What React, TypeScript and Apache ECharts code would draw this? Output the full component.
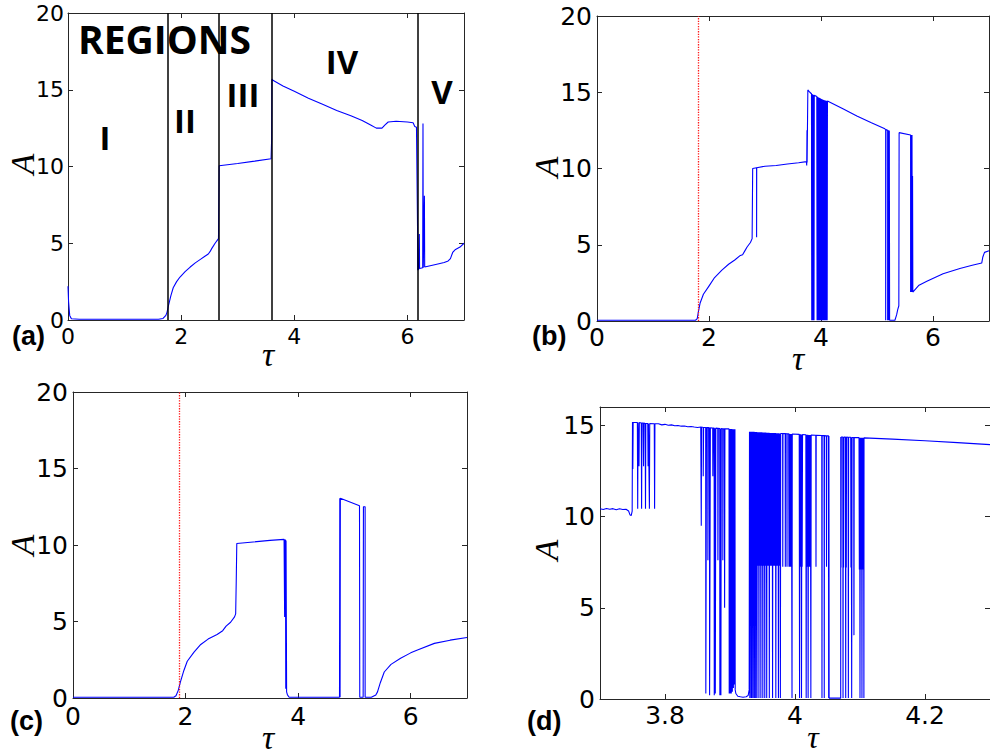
import React, { useEffect, useRef } from "react";
import * as echarts from "echarts";

// ---------- tick values ----------
const xTicksFull = [0, 2, 4, 6];
const yTicksFull = [0, 5, 10, 15, 20];
const xTicksZoom = [3.8, 4.0, 4.2];
const yTicksZoom = [0, 5, 10, 15];

// ---------- region boundaries (panel a) and onset markers (b, c) ----------
const regionBounds = [1.76, 2.67, 3.6, 6.18];
const regionNames = ["I", "II", "III", "IV", "V"];
const onsetB = [1.8];
const onsetC = [1.89];

// ---------- panel (a) ----------
const seriesA: [number, number][] = [
  [0, 2.2], [0.01, 1.2], [0.03, 0.3], [0.06, 0.08], [0.2, 0.05], [1.0, 0.05], [1.6, 0.05],
  [1.68, 0.1], [1.73, 0.3], [1.75, 0.5], [1.78, 1.0], [1.82, 1.6], [1.86, 2.1], [1.92, 2.5],
  [1.98, 2.8], [2.07, 3.15], [2.16, 3.45], [2.25, 3.72], [2.34, 3.95], [2.42, 4.15], [2.48, 4.3],
  [2.51, 4.45], [2.54, 4.65], [2.6, 5.0], [2.66, 5.3], [2.67, 8.9], [2.672, 10.05], [3.0, 10.2],
  [3.3, 10.35], [3.59, 10.5], [3.6, 11.8], [3.605, 15.7], [3.63, 15.6], [3.8, 15.25], [4.0, 14.9],
  [4.25, 14.45], [4.5, 14.05], [4.75, 13.65], [5.0, 13.3], [5.2, 13.0], [5.35, 12.7], [5.45, 12.5],
  [5.55, 12.5], [5.6, 12.7], [5.66, 12.9], [5.8, 12.95], [6.0, 12.9], [6.1, 12.85], [6.13, 12.6],
  [6.16, 12.55], [6.18, 5.6], [6.182, 3.26], [6.2, 3.3], [6.21, 5.6], [6.215, 3.35], [6.27, 3.4],
  [6.275, 12.8], [6.28, 3.4], [6.3, 8.1], [6.305, 3.45], [6.5, 3.62], [6.65, 3.75], [6.72, 3.85],
  [6.76, 4.0], [6.8, 4.4], [6.85, 4.6], [6.93, 4.75], [7.0, 5.0],
];

// ---------- panel (b) ----------
const bRise: [number, number][] = [
  [0, 0.05], [1.0, 0.05], [1.76, 0.05], [1.79, 0.15], [1.81, 0.6], [1.84, 1.16], [1.9, 1.75],
  [1.99, 2.24], [2.1, 2.85], [2.23, 3.34], [2.35, 3.72], [2.46, 4.0], [2.56, 4.3], [2.6, 4.35],
  [2.64, 4.6], [2.68, 4.85], [2.74, 5.15], [2.77, 5.4], [2.78, 10.0], [2.85, 10.05], [2.85, 5.5],
  [2.852, 10.05], [3.0, 10.15], [3.2, 10.2], [3.4, 10.3], [3.6, 10.38], [3.74, 10.45], [3.745, 10.2],
  [3.75, 12.5], [3.752, 10.4], [3.76, 10.4], [3.765, 15.15], [3.8, 15.0], [3.83, 14.9],
];
const bBand: [number, number][] = [
  [3.835, 0.05], [3.84, 14.88], [3.845, 0.05], [3.85, 14.86], [3.855, 0.05], [3.86, 14.84],
  [3.865, 0.05], [3.87, 14.82], [3.875, 0.05], [3.88, 14.8], [3.925, 14.72], [3.93, 0.05],
  [3.935, 14.7], [3.94, 0.05], [3.945, 14.68], [3.95, 0.05], [3.955, 14.66], [3.96, 0.05],
  [3.965, 14.64], [3.97, 0.05], [3.975, 14.62], [3.98, 0.05], [3.985, 14.6], [3.99, 0.05],
  [3.995, 14.58], [4.0, 0.05], [4.005, 14.56], [4.01, 0.05], [4.015, 14.54], [4.02, 0.05],
  [4.025, 14.52], [4.03, 0.05], [4.035, 14.5], [4.04, 0.05], [4.045, 14.49], [4.05, 0.05],
  [4.055, 14.48], [4.06, 0.05], [4.065, 14.47], [4.07, 0.05], [4.075, 14.46], [4.08, 0.05],
  [4.085, 14.45], [4.09, 0.05], [4.095, 14.44], [4.1, 0.05], [4.105, 14.43], [4.11, 0.05],
  [4.115, 14.42],
];
const bTail: [number, number][] = [
  [4.4, 13.9], [4.64, 13.45], [4.9, 13.0], [5.14, 12.6], [5.155, 12.55], [5.155, 0.05],
  [5.16, 12.55], [5.19, 12.5], [5.19, 0.05], [5.2, 12.5], [5.205, 0.05], [5.21, 12.5],
  [5.215, 0.05], [5.22, 12.48], [5.225, 0.05], [5.32, 0.05], [5.35, 0.4], [5.37, 0.75],
  [5.39, 1.0], [5.395, 12.35], [5.6, 12.2], [5.6, 1.9], [5.605, 12.2], [5.61, 1.9], [5.615, 12.2],
  [5.62, 1.9], [5.625, 12.2], [5.63, 1.9], [5.635, 9.5], [5.64, 1.9], [5.75, 2.35], [5.89, 2.6],
  [6.18, 3.1], [6.48, 3.44], [6.7, 3.65], [6.87, 3.8], [6.89, 4.2], [6.92, 4.5], [7.0, 4.6],
];

// ---------- panel (c) ----------
const seriesC: [number, number][] = [
  [0, 0.05], [1.0, 0.05], [1.79, 0.05], [1.83, 0.15], [1.87, 0.5], [1.91, 1.07], [1.97, 1.8],
  [2.03, 2.4], [2.15, 3.0], [2.27, 3.5], [2.4, 3.85], [2.56, 4.15], [2.66, 4.4], [2.72, 4.7],
  [2.8, 4.95], [2.87, 5.3], [2.89, 5.5], [2.9, 7.6], [2.91, 10.1], [3.2, 10.2], [3.5, 10.3],
  [3.75, 10.37], [3.76, 5.3], [3.765, 10.35], [3.775, 10.3], [3.78, 0.6], [3.785, 10.3],
  [3.79, 10.3], [3.795, 0.4], [3.81, 0.2], [3.84, 0.05], [4.735, 0.05], [4.74, 13.05],
  [4.745, 0.05], [4.75, 13.05], [5.09, 12.57], [5.095, 0.05], [5.155, 0.05], [5.16, 12.5],
  [5.19, 12.5], [5.19, 0.05], [5.3, 0.05], [5.38, 0.2], [5.41, 0.4], [5.46, 1.0], [5.53, 1.7],
  [5.65, 2.2], [5.82, 2.6], [6.0, 2.95], [6.12, 3.14], [6.42, 3.57], [6.7, 3.78], [7.0, 3.95],
];

// ---------- panel (d) ----------
const dPre: [number, number][] = [
  [3.7, 10.42], [3.705, 10.38], [3.71, 10.44], [3.715, 10.4], [3.72, 10.43], [3.725, 10.37],
  [3.73, 10.42], [3.735, 10.38], [3.74, 10.4], [3.744, 10.3], [3.746, 10.1], [3.748, 10.05],
  [3.7495, 10.3],
];
const dBurst: [number, number][] = [
  [3.75, 15.18], [3.7505, 12.6], [3.751, 15.15], [3.7575, 15.15], [3.758, 10.42], [3.7585, 15.15],
  [3.7595, 15.15], [3.76, 12.75], [3.7605, 15.15], [3.7635, 15.12], [3.764, 10.42], [3.7645, 15.12],
  [3.7665, 15.12], [3.767, 12.75], [3.7675, 15.12], [3.7695, 15.1], [3.77, 10.42], [3.7705, 15.1],
  [3.7735, 15.1], [3.774, 12.75], [3.7745, 15.1], [3.7755, 15.1], [3.776, 10.42], [3.7765, 15.1],
  [3.7835, 15.08], [3.784, 10.42], [3.7845, 15.08],
];
const dPlateau: [number, number][] = [
  [3.79, 15.08], [3.795, 15.02], [3.8, 15.05], [3.805, 15.0], [3.81, 15.02], [3.815, 14.97],
  [3.82, 14.99], [3.825, 14.95], [3.83, 14.96], [3.835, 14.92], [3.84, 14.93], [3.845, 14.9],
  [3.85, 14.88], [3.855, 14.9],
];
const dDense1: [number, number][] = [
  [3.8558, 14.9], [3.8558, 9.5], [3.8562, 14.9], [3.8588, 14.88], [3.8588, 12.2], [3.8594, 14.88],
  [3.8626, 14.88], [3.8628, 0.3], [3.8636, 0.3], [3.8638, 14.87], [3.8658, 14.87], [3.866, 7.6],
  [3.8666, 14.87], [3.8684, 14.86], [3.8686, 0.2], [3.8696, 0.2], [3.8698, 14.86], [3.8734, 14.85],
  [3.8736, 12.2], [3.8742, 14.85], [3.8756, 14.85], [3.8758, 0.2], [3.8766, 14.84], [3.8774, 0.3],
  [3.8782, 14.84], [3.8812, 14.83], [3.8814, 7.6], [3.882, 14.83], [3.8842, 14.82], [3.8844, 0.2],
  [3.8852, 14.82], [3.886, 0.2], [3.8866, 14.82], [3.8888, 14.81], [3.889, 7.6], [3.8896, 14.81],
  [3.8915, 14.8], [3.8917, 5.0], [3.8922, 14.8], [3.8985, 14.8], [3.8988, 0.3], [3.8996, 14.8],
  [3.9004, 0.3], [3.9012, 14.79], [3.902, 0.3], [3.9028, 14.79], [3.9036, 0.4], [3.9044, 14.78],
  [3.9052, 0.6], [3.906, 14.78], [3.9068, 0.8], [3.9076, 14.78], [3.908, 0.5],
];
const dGap: [number, number][] = [
  [3.909, 0.3], [3.912, 0.15], [3.916, 0.12], [3.92, 0.1], [3.925, 0.12], [3.928, 0.2], [3.9295, 0.5],
];
const dDense2: [number, number][] = [
  [3.93, 14.65], [3.9305, 0.05], [3.931, 14.65], [3.9315, 12.0], [3.932, 14.65], [3.9325, 0.05],
  [3.933, 14.65], [3.9335, 0.05], [3.934, 14.64], [3.9345, 7.3], [3.935, 14.64], [3.9355, 0.05],
  [3.936, 14.64], [3.9365, 7.3], [3.937, 14.64], [3.9375, 0.05], [3.938, 14.63], [3.9385, 7.3],
  [3.939, 14.63], [3.9395, 0.05], [3.94, 14.63], [3.9405, 7.3], [3.941, 14.63], [3.9415, 0.05],
  [3.942, 14.62], [3.9425, 7.3], [3.943, 14.62], [3.9435, 7.3], [3.944, 14.62], [3.9445, 0.05],
  [3.945, 14.62], [3.9455, 7.3], [3.946, 14.61], [3.9465, 7.3], [3.947, 14.61], [3.9475, 0.05],
  [3.948, 14.61], [3.9485, 7.3], [3.949, 14.61], [3.9495, 7.3], [3.95, 14.6], [3.9505, 0.05],
  [3.951, 14.6], [3.9515, 7.3], [3.952, 14.6], [3.9525, 7.3], [3.953, 14.6], [3.9535, 0.05],
  [3.954, 14.6], [3.9545, 7.3], [3.955, 14.6], [3.9555, 7.3], [3.956, 14.59], [3.9565, 0.05],
  [3.957, 14.59], [3.9575, 7.3], [3.958, 14.59], [3.9585, 7.3], [3.959, 14.59], [3.9595, 7.3],
  [3.96, 14.59], [3.9605, 0.05], [3.961, 14.58], [3.9615, 7.3], [3.962, 14.58], [3.9625, 7.3],
  [3.963, 14.58], [3.9635, 7.3], [3.964, 14.58], [3.9645, 7.3], [3.965, 14.58], [3.9655, 0.05],
  [3.966, 14.57], [3.9665, 7.3], [3.967, 14.57], [3.9675, 7.3], [3.968, 14.57], [3.9685, 7.3],
  [3.969, 14.57], [3.9695, 7.3], [3.97, 14.57], [3.9705, 0.05], [3.971, 14.56], [3.9715, 7.3],
  [3.972, 14.56], [3.9725, 7.3], [3.973, 14.56], [3.9735, 7.3], [3.974, 14.56], [3.9745, 0.05],
  [3.975, 14.56], [3.9755, 7.3], [3.976, 14.55], [3.9765, 7.3], [3.977, 14.55], [3.9775, 0.05],
  [3.978, 14.55], [3.981, 14.55], [3.9812, 7.25], [3.9815, 14.55], [3.9849, 14.54], [3.9851, 7.25],
  [3.9853, 14.54], [3.9875, 14.53], [3.9877, 7.25], [3.9879, 14.53], [3.9903, 14.53], [3.9908, 7.25],
  [3.9913, 14.53], [3.9918, 7.25], [3.9923, 14.52], [3.9928, 7.25], [3.9933, 14.52], [3.9938, 7.25],
  [3.9945, 14.52], [3.9954, 0.05], [3.9958, 14.52], [4.0065, 14.5], [4.007, 0.05], [4.0075, 14.5],
  [4.008, 7.25], [4.0085, 14.5], [4.009, 7.25], [4.0095, 14.49], [4.01, 0.05], [4.0105, 14.49],
  [4.011, 7.25], [4.0116, 14.49], [4.0167, 14.48], [4.0172, 0.05], [4.0177, 14.48], [4.0182, 7.25],
  [4.0187, 14.48], [4.0192, 7.25], [4.0197, 14.48], [4.0202, 0.05], [4.0207, 14.47], [4.0212, 7.25],
  [4.0217, 14.47], [4.0222, 7.25], [4.0227, 14.47], [4.0232, 7.25], [4.0237, 14.47], [4.0244, 0.05],
  [4.0249, 14.46], [4.032, 14.45], [4.0323, 7.25], [4.0326, 14.45], [4.0412, 14.44], [4.0415, 0.05],
  [4.0418, 14.44], [4.0447, 14.43], [4.045, 0.05], [4.0453, 14.43], [4.0482, 14.42], [4.0485, 7.25],
  [4.0488, 14.42], [4.0515, 14.42], [4.0518, 0.05], [4.0522, 14.41], [4.0525, 0.05],
];
const dFlat: [number, number][] = [[4.056, 0.05], [4.064, 0.05], [4.068, 0.05]];
const dDense3: [number, number][] = [
  [4.0703, 0.05], [4.0704, 14.36], [4.0708, 7.2], [4.0712, 14.36], [4.0735, 14.36], [4.0739, 0.05],
  [4.0743, 14.36], [4.0748, 7.2], [4.0752, 14.35], [4.0776, 14.35], [4.078, 0.05], [4.0784, 14.35],
  [4.0789, 7.2], [4.0793, 14.35], [4.0817, 14.34], [4.0821, 0.05], [4.0825, 14.34], [4.0857, 14.34],
  [4.0861, 7.2], [4.0865, 14.34], [4.0872, 0.05], [4.0878, 14.33], [4.0903, 14.33], [4.0907, 3.5],
  [4.0911, 14.33], [4.0985, 14.32], [4.099, 7.1], [4.0995, 14.32], [4.1, 0.05], [4.1005, 14.32],
  [4.101, 7.1], [4.1015, 14.32], [4.102, 7.1], [4.1025, 14.31], [4.103, 0.05], [4.1035, 14.31],
  [4.104, 7.1], [4.1045, 14.31], [4.105, 7.1], [4.1055, 14.31], [4.106, 0.05], [4.1062, 14.31],
];
const dTail: [number, number][] = [[4.15, 14.24], [4.2, 14.15], [4.25, 14.05], [4.3, 13.94]];

const LINE = "#0000ff";
const AXIS = "#262626";
const NUM_FONT = "DejaVu Sans";

type Panel = {
  left: number; top: number; width: number; height: number;
  xMin: number; xMax: number; yMax: number; fs: number; xMargin: number; yMargin: number;
  xTicks: number[]; yTicks: number[];
};

const panels: Panel[] = [
  { left: 68, top: 13, width: 396, height: 307, xMin: 0, xMax: 7, yMax: 20, fs: 22, xMargin: 5, yMargin: 4, xTicks: xTicksFull, yTicks: yTicksFull },
  { left: 597, top: 16, width: 392, height: 305, xMin: 0, xMax: 7, yMax: 20, fs: 25, xMargin: 4, yMargin: 5, xTicks: xTicksFull, yTicks: yTicksFull },
  { left: 73, top: 392, width: 394, height: 306, xMin: 0, xMax: 7, yMax: 20, fs: 25, xMargin: 6, yMargin: 5, xTicks: xTicksFull, yTicks: yTicksFull },
  { left: 600, top: 407, width: 392, height: 292, xMin: 3.7, xMax: 4.3, yMax: 16, fs: 25, xMargin: 4, yMargin: 5, xTicks: xTicksZoom, yTicks: yTicksZoom },
];

function buildOption() {
  const grid = panels.map((p) => ({ left: p.left, top: p.top, width: p.width, height: p.height }));
  const xAxis: any[] = [];
  const yAxis: any[] = [];
  panels.forEach((p, i) => {
    xAxis.push({
      type: "value", gridIndex: i, position: "bottom", min: p.xMin, max: p.xMax,
      axisLine: { show: true, onZero: false, lineStyle: { color: AXIS, width: 1 } },
      axisTick: { show: true, inside: true, length: 5, customValues: p.xTicks, lineStyle: { color: AXIS } },
      axisLabel: { show: true, customValues: p.xTicks, color: "#000", fontFamily: NUM_FONT, fontSize: p.fs, lineHeight: p.fs, margin: p.xMargin },
      splitLine: { show: false },
    });
    yAxis.push({
      type: "value", gridIndex: i, position: "left", min: 0, max: p.yMax,
      axisLine: { show: true, onZero: false, lineStyle: { color: AXIS, width: 1 } },
      axisTick: { show: true, inside: true, length: 5, customValues: p.yTicks, lineStyle: { color: AXIS } },
      axisLabel: { show: true, customValues: p.yTicks, color: "#000", fontFamily: NUM_FONT, fontSize: p.fs, margin: p.yMargin },
      splitLine: { show: false },
    });
  });
  panels.forEach((p, i) => {
    xAxis.push({
      type: "value", gridIndex: i, position: "top", min: p.xMin, max: p.xMax,
      axisLine: { show: true, onZero: false, lineStyle: { color: AXIS, width: 1 } },
      axisTick: { show: true, inside: true, length: 5, customValues: p.xTicks, lineStyle: { color: AXIS } },
      axisLabel: { show: false },
      splitLine: { show: false },
    });
    yAxis.push({
      type: "value", gridIndex: i, position: "right", min: 0, max: p.yMax,
      axisLine: { show: true, onZero: false, lineStyle: { color: AXIS, width: 1 } },
      axisTick: { show: true, inside: true, length: 5, customValues: p.yTicks, lineStyle: { color: AXIS } },
      axisLabel: { show: false },
      splitLine: { show: false },
    });
  });

  const lineBase = {
    type: "line", symbol: "none", showSymbol: false, silent: true,
    lineStyle: { color: LINE, width: 1.1, join: "bevel" }, z: 3,
  };
  const seriesB = [...bRise, ...bBand, ...bTail];
  const seriesD = [...dPre, ...dBurst, ...dPlateau, ...dDense1, ...dGap, ...dDense2, ...dFlat, ...dDense3, ...dTail];
  const redDots = { color: "#ff1a1a", width: 1.3, type: "dotted" };

  const series: any[] = [
    {
      ...lineBase, xAxisIndex: 0, yAxisIndex: 0, data: seriesA,
      markLine: {
        silent: true, symbol: ["none", "none"], label: { show: false }, animation: false,
        lineStyle: { color: "#000", width: 1.5, type: "solid" },
        data: regionBounds.map((v) => ({ xAxis: v })),
      },
    },
    {
      ...lineBase, xAxisIndex: 1, yAxisIndex: 1, data: seriesB,
      markLine: {
        silent: true, symbol: ["none", "none"], label: { show: false }, animation: false,
        lineStyle: redDots,
        data: onsetB.map((v) => ({ xAxis: v, lineStyle: redDots })),
      },
    },
    {
      ...lineBase, xAxisIndex: 2, yAxisIndex: 2, data: seriesC,
      markLine: {
        silent: true, symbol: ["none", "none"], label: { show: false }, animation: false,
        lineStyle: redDots,
        data: onsetC.map((v) => ({ xAxis: v, lineStyle: redDots })),
      },
    },
    { ...lineBase, xAxisIndex: 3, yAxisIndex: 3, data: seriesD },
  ];

  const boldSans = "Open Sans";
  const regionPos = [[105, 137], [185, 120], [243, 94], [342, 61], [442, 91]];
  const graphic: any[] = [
    { type: "text", x: 78, y: 38, silent: true, style: { text: "REGIONS", fill: "#000", fontFamily: boldSans, fontWeight: 700, fontSize: 39, align: "left", verticalAlign: "middle" } },
    ...regionNames.map((t, i) => ({
      type: "text", x: regionPos[i][0], y: regionPos[i][1], silent: true,
      style: { text: t, fill: "#000", fontFamily: boldSans, fontWeight: 700, fontSize: 33, align: "center", verticalAlign: "middle" },
    })),
  ];
  const panelLabels = [["(a)", 12, 336], ["(b)", 532, 336], ["(c)", 10, 721], ["(d)", 527, 721]];
  panelLabels.forEach(([t, x, y]) => {
    graphic.push({ type: "text", x, y, silent: true, style: { text: t, fill: "#000", fontFamily: "Liberation Sans", fontWeight: 700, fontSize: 27, align: "left", verticalAlign: "middle" } });
  });
  const tauPos = [[268, 354, 34], [798, 358, 34], [268, 737, 34], [813, 737, 32]];
  tauPos.forEach(([x, y, fs]) => {
    graphic.push({ type: "text", x, y, silent: true, style: { text: "τ", fill: "#000", fontFamily: "Liberation Serif", fontStyle: "italic", fontSize: fs, lineHeight: 16, align: "center", verticalAlign: "middle" } });
  });
  const aPos = [[22, 164], [546, 167], [22, 545], [546, 550]];
  aPos.forEach(([x, y]) => {
    graphic.push({ type: "text", x, y, rotation: Math.PI / 2, silent: true, style: { text: "A", fill: "#000", fontFamily: "Liberation Serif", fontStyle: "italic", fontSize: 34, align: "center", verticalAlign: "middle" } });
  });

  return { animation: false, backgroundColor: "#fff", grid, xAxis, yAxis, series, graphic };
}

export default function App() {
  const ref = useRef<HTMLDivElement>(null);
  useEffect(() => {
    if (!ref.current) return;
    const chart = echarts.init(ref.current, undefined, { renderer: "svg" });
    chart.setOption(buildOption() as any);
    return () => chart.dispose();
  }, []);
  return <div ref={ref} style={{ position: "fixed", left: 0, top: 0, width: 990, height: 755 }} />;
}
